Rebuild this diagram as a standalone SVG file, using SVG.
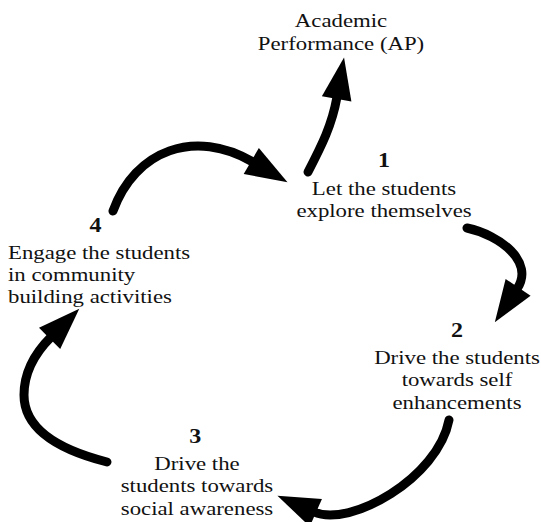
<svg xmlns="http://www.w3.org/2000/svg" width="541" height="522" viewBox="0 0 541 522">
<defs>
<style>
text{font-family:"Liberation Serif","Times New Roman",serif;font-size:19px;fill:#111}
.c{text-anchor:middle}
.n{font-size:20px;font-weight:bold}
.arrow{fill:none;stroke:#000;stroke-width:9;stroke-linecap:round;marker-end:url(#head)}
</style>
<marker id="head" markerUnits="userSpaceOnUse" orient="auto" refX="0" refY="0" markerWidth="1" markerHeight="1" overflow="visible">
<path d="M-2,-15 L40,0 L-2,15 Z" fill="#000"/>
</marker>
</defs>
<rect width="541" height="522" fill="#fff"/>
<g id="connectors">
<path class="arrow" d="M308,172 C322,145 332,125 337,97"/>
<path class="arrow" d="M113,211 C135,150 195,128 253,162"/>
<path class="arrow" d="M467,228 C500,235 535,262 517,289"/>
<path class="arrow" d="M449,420 C438,478 350,528 314,512"/>
<path class="arrow" d="M107,462 C60,450 24,430 24,395 C24,372 36,352 51,337"/>
</g>
<g id="ap" transform="translate(341,0) scale(1.2,1)">
<text class="c" x="0" y="27">Academic</text>
<text class="c" x="0" y="50">Performance (AP)</text>
</g>
<g id="node1" transform="translate(384,0) scale(1.2,1)">
<text class="c n" x="0" y="167">1</text>
<text class="c" x="0" y="195">Let the students</text>
<text class="c" x="0" y="217">explore themselves</text>
</g>
<g id="node2" transform="translate(457,0) scale(1.2,1)">
<text class="c n" x="0" y="337">2</text>
<text class="c" x="0" y="364">Drive the students</text>
<text class="c" x="0" y="386">towards self</text>
<text class="c" x="0" y="409">enhancements</text>
</g>
<g id="node3" transform="translate(197,0) scale(1.2,1)">
<text class="c n" x="-1.5" y="443">3</text>
<text class="c" x="0" y="470">Drive the</text>
<text class="c" x="0" y="492">students towards</text>
<text class="c" x="0" y="515">social awareness</text>
</g>
<g id="node4" transform="translate(8,0) scale(1.2,1)">
<text class="c n" x="73" y="232">4</text>
<text x="0" y="259">Engage the students</text>
<text x="0" y="281">in community</text>
<text x="0" y="303">building activities</text>
</g>
</svg>
